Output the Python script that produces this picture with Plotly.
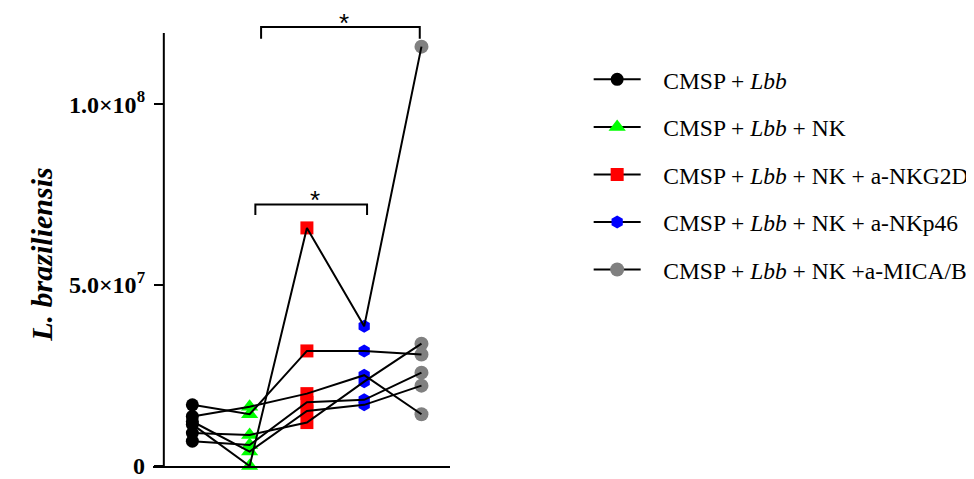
import plotly.graph_objects as go

# ---- data (values in parasites) ----
group_names = [
    "CMSP + <i>Lbb</i>",
    "CMSP + <i>Lbb</i> + NK",
    "CMSP + <i>Lbb</i> + NK + a-NKG2D",
    "CMSP + <i>Lbb</i> + NK + a-NKp46",
    "CMSP + <i>Lbb</i> + NK +a-MICA/B",
]
# each list: one value per donor (same donor order in every group)
cmsp_lbb = [11.5e6, 16.9e6, 9.1e6, 13.7e6, 6.85e6, 12.3e6]
cmsp_lbb_nk = [0.0, 14.3e6, 8.6e6, 16.4e6, 5.8e6, 4.0e6]
anti_nkg2d = [65.8e6, 31.8e6, 12.0e6, 20.0e6, 17.6e6, 15.2e6]
anti_nkp46 = [38.6e6, 31.8e6, 23.3e6, 25.1e6, 18.3e6, 16.9e6]
anti_mica = [115.9e6, 30.8e6, 33.8e6, 14.3e6, 25.8e6, 22.2e6]

tick_vals = [0, 5e7, 1e8]
tick_text = ["<b>0</b>", "<b>5.0×10<sup>7</sup></b>", "<b>1.0×10<sup>8</sup></b>"]
y_title = "<b><i>L. braziliensis</i></b>"

# significance brackets: (x_left, x_right, height, tick_drop, label)
brackets = [
    (1.1, 3.05, 7.23e7, 0.29e7, "*"),
    (1.2, 3.97, 12.13e7, 0.32e7, "*"),
]

series = [cmsp_lbb, cmsp_lbb_nk, anti_nkg2d, anti_nkp46, anti_mica]
colors = ["#000000", "#00ff00", "#ff0000", "#0000ff", "#808080"]
symbols = ["circle", "triangle-up", "square", "hexagon", "circle"]
sizes = [13, 15, 13, 13, 14]

FONT = "Liberation Serif, Times New Roman, serif"

fig = go.Figure()

# group markers (legend entries)
for gi, (name, vals) in enumerate(zip(group_names, series)):
    xs, ys = [], []
    for v in vals:
        xs += [gi, None]
        ys += [v, None]
    fig.add_trace(go.Scatter(
        x=xs, y=ys, mode="lines+markers", name="&nbsp;&nbsp;&nbsp;" + name,
        line=dict(color="black", width=2),
        marker=dict(color=colors[gi], symbol=symbols[gi], size=sizes[gi],
                    line=dict(width=0)),
        connectgaps=False, cliponaxis=False,
        legendgroup=f"g{gi}",
    ))

# donor lines (drawn on top)
n_donors = len(cmsp_lbb)
for d in range(n_donors):
    fig.add_trace(go.Scatter(
        x=list(range(len(series))), y=[s[d] for s in series],
        mode="lines", line=dict(color="black", width=2),
        showlegend=False, hoverinfo="skip", cliponaxis=False,
    ))

# geometry (page body has an 8px margin)
OFF = 8
W, H = 974 - OFF, 479 - OFF
plot_left_w, plot_right_w, plot_top_w, plot_bot_w = 153, 455, 8, 470
L = plot_left_w - OFF
R = W - (plot_right_w - OFF)
T = plot_top_w - OFF
B = H - (plot_bot_w - OFF)
plot_w = plot_right_w - plot_left_w
plot_h = plot_bot_w - plot_top_w
px_per_unit = 182.5 / 5e7
ymax = plot_h / px_per_unit
y_axis_top = 1.197e8
y_axis_pos = (164 - plot_left_w) / plot_w

shapes = [dict(type="line", xref="paper", yref="y", x0=y_axis_pos, x1=y_axis_pos,
               y0=0, y1=y_axis_top, line=dict(color="black", width=2))]
annotations = []
for x0, x1, h, drop, lab in brackets:
    shapes.append(dict(type="path", xref="x", yref="y",
                       path=f"M{x0},{h-drop} L{x0},{h} L{x1},{h} L{x1},{h-drop}",
                       line=dict(color="black", width=2)))
    annotations.append(dict(x=(x0 + x1) / 2, y=h - 13 / px_per_unit, xref="x", yref="y",
                            text=lab, showarrow=False, yanchor="bottom", xshift=4,
                            font=dict(family="Liberation Sans, Arial, sans-serif",
                                      size=26, color="black")))

annotations.append(dict(x=(40 - plot_left_w) / plot_w, y=(plot_bot_w - 257) / plot_h,
                        xref="paper", yref="paper", text=y_title, textangle=-90,
                        showarrow=False, xanchor="center", yanchor="middle",
                        font=dict(family=FONT, size=30, color="black")))

fig.update_layout(
    width=W, height=H,
    margin=dict(l=L, r=R, t=T, b=B, pad=0),
    plot_bgcolor="white", paper_bgcolor="white",
    font=dict(family=FONT, color="black"),
    xaxis=dict(range=[-0.687, 4.498], showline=True, linecolor="black", linewidth=2,
               showgrid=False, zeroline=False, showticklabels=False, ticks=""),
    yaxis=dict(range=[0, ymax], anchor="free", position=y_axis_pos,
               showline=False, showgrid=False, zeroline=False,
               tickvals=tick_vals, ticktext=tick_text, ticks="outside",
               ticklen=10, tickwidth=2, tickcolor="black",
               ticklabeloverflow="allow", ticklabelstandoff=4,
               tickfont=dict(family=FONT, size=24, color="black")),
    legend=dict(x=(596 - plot_left_w) / plot_w, y=1 - (58 - plot_top_w) / plot_h,
                xanchor="left", yanchor="top",
                font=dict(family=FONT, size=23.5, color="black"),
                itemwidth=47, tracegroupgap=14, bgcolor="rgba(0,0,0,0)"),
    shapes=shapes, annotations=annotations,
    showlegend=True,
)

fig.write_html("out.html")
